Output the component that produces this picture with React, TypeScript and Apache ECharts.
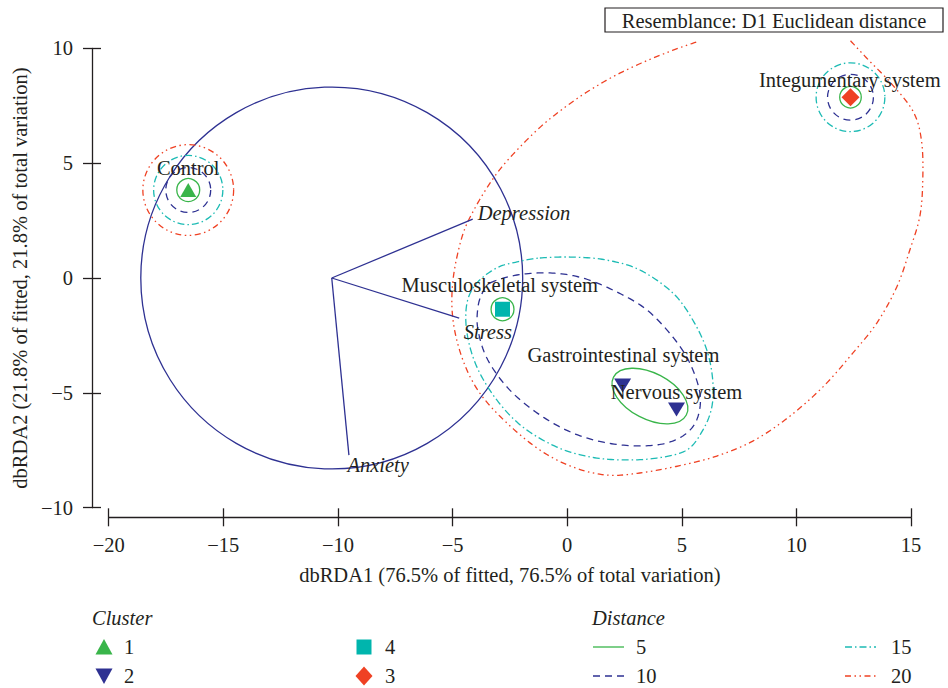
import React, { useEffect, useRef } from 'react';
import * as echarts from 'echarts';

const FONT = '"Liberation Serif", "Times New Roman", serif';
const INK = '#231f20';
const GREEN = '#39b54a';
const NAVY = '#2e3192';
const TEAL = '#00b5ad';
const TEAL_LINE = '#1cbbb4';
const RED = '#ef4123';
const FS = 20.5;

// axes
const xRange = [-20, 15];
const yRange = [-10, 10];
const tickStep = 5;
const xTitle = 'dbRDA1 (76.5% of fitted, 76.5% of total variation)';
const yTitle = 'dbRDA2 (21.8% of fitted, 21.8% of total variation)';
const boxTitle = 'Resemblance: D1 Euclidean distance';

// samples
const pointNames = ['Control', 'Integumentary system', 'Musculoskeletal system', 'Gastrointestinal system', 'Nervous system'];
const pointX = [-16.53, 12.36, -2.82, 2.42, 4.77];
const pointY = [3.83, 7.87, -1.36, -4.68, -5.72];
const pointCluster = ['1', '3', '4', '2', '2'];
const labelOffset = [[0, -21.7], [-0.7, -17], [-2.7, -24], [0.8, -30.5], [0, -17]];

// vectors (correlation circle)
const vectorNames = ['Depression', 'Stress', 'Anxiety'];
const vectorOrigin = [-10.27, 0];
const vectorEndX = [-4.12, -4.71, -9.52];
const vectorEndY = [2.56, -1.75, -7.71];
const vectorLabelOffset = [[5, -6], [4.5, 13.5], [-1.5, 10]];
const corrCircle = [[-10.27, 0, 8.33]];

// distance contours: circles [x, y, r]
const circles5 = [[-16.53, 3.83, 0.5], [12.36, 7.87, 0.47], [-2.82, -1.36, 0.5]];
const circles10 = [[-16.53, 3.83, 0.98], [12.36, 7.87, 1.0]];
const circles15 = [[-16.53, 3.83, 1.51], [12.36, 7.87, 1.5]];
const circles20 = [[-16.53, 3.83, 1.98]];
// ellipse [x, y, rx, ry, angleDeg]
const ellipse5 = [[3.61, -5.14, 1.79, 1.0, -27.5]];
// outlines
const outline10 = [[-3.37, -0.22], [-2.19, 0.13], [-0.75, 0.22], [0.68, 0.0], [2.17, -0.61], [3.48, -1.39], [4.61, -2.57], [5.35, -3.7], [5.79, -5.01], [5.7, -6.05], [5.22, -6.75], [4.35, -7.18], [3.17, -7.31], [1.73, -7.18], [0.25, -6.75], [-1.19, -5.96], [-2.5, -4.88], [-3.46, -3.57], [-3.89, -2.26], [-3.89, -1.26], [-3.68, -0.61]];
const outline15 = [[-1.19, 0.87], [0.25, 0.91], [1.73, 0.78], [3.17, 0.35], [4.61, -0.65], [5.48, -1.83], [6.09, -3.13], [6.35, -4.44], [6.31, -5.62], [5.92, -6.62], [5.22, -7.49], [3.91, -7.84], [2.43, -7.92], [0.99, -7.79], [-0.45, -7.36], [-1.93, -6.49], [-3.07, -5.31], [-3.94, -3.87], [-4.37, -2.39], [-4.37, -1.09], [-3.94, -0.22], [-3.07, 0.44], [-2.19, 0.7]];
const outline20 = [[5.63, 10.27], [4.68, 9.94], [3.22, 9.35], [1.81, 8.66], [0.33, 7.74], [-1.15, 6.59], [-2.53, 5.2], [-3.31, 4.21], [-4.08, 2.94], [-4.59, 1.78], [-4.98, -0.09], [-4.98, -1.83], [-4.55, -3.57], [-3.81, -5.01], [-2.63, -6.31], [-1.19, -7.49], [0.25, -8.23], [1.73, -8.58], [3.17, -8.49], [4.87, -8.18], [6.53, -7.75], [8.1, -7.1], [9.62, -6.09], [11.15, -4.75], [12.46, -3.27], [13.51, -1.96], [14.38, -0.39], [14.95, 1.22], [15.38, 2.66], [15.51, 4.14], [15.47, 5.88], [15.12, 7.2], [14.2, 8.4], [13.11, 9.53], [12.33, 10.36]];

// legend
const clusterLegend = ['1', '2', '4', '3'];
const distanceLegend = ['5', '10', '15', '20'];

const DASH: Record<string, any> = {
  '5': null,
  '10': [7, 5],
  '15': [7, 3, 1.5, 3],
  '20': [6, 3.5, 1.5, 3.5, 1.5, 3.5],
};
const DCOLOR: Record<string, string> = { '5': GREEN, '10': NAVY, '15': TEAL_LINE, '20': RED };
const LW = 1.3;

const clusterStyle: Record<string, any> = {
  '1': { symbol: 'triangle', size: [16, 14], rotate: 0, color: GREEN },
  '2': { symbol: 'triangle', size: [17, 14], rotate: 180, color: NAVY },
  '4': { symbol: 'rect', size: [15, 15], rotate: 0, color: TEAL },
  '3': { symbol: 'diamond', size: [18, 18], rotate: 0, color: RED },
};

const minus = (v: number) => String(v).replace('-', '\u2212');

// smooth pixel-space curve through the projected outline points (Catmull-Rom)
function smoothPath(px: number[][], closed: boolean, seg = 14) {
  const n = px.length;
  const get = (i: number) => (closed ? px[(i + n) % n] : px[Math.max(0, Math.min(n - 1, i))]);
  const out: number[][] = [];
  const last = closed ? n : n - 1;
  for (let i = 0; i < last; i++) {
    const p0 = get(i - 1), p1 = get(i), p2 = get(i + 1), p3 = get(i + 2);
    for (let s = 0; s < seg; s++) {
      const t = s / seg, t2 = t * t, t3 = t2 * t;
      const f = (k: number) =>
        0.5 * (2 * p1[k] + (-p0[k] + p2[k]) * t + (2 * p0[k] - 5 * p1[k] + 4 * p2[k] - p3[k]) * t2 + (-p0[k] + 3 * p1[k] - 3 * p2[k] + p3[k]) * t3);
      out.push([f(0), f(1)]);
    }
  }
  if (!closed) out.push(px[n - 1]);
  return out;
}

function circleSeries(data: number[][], key: string) {
  return {
    type: 'custom',
    z: 2,
    silent: true,
    data,
    renderItem: (params: any, api: any) => {
      const c = api.coord([api.value(0), api.value(1)]);
      const r = api.size([api.value(2), 0])[0];
      return {
        type: 'circle',
        shape: { cx: c[0], cy: c[1], r },
        style: { fill: 'none', stroke: DCOLOR[key], lineWidth: LW, lineDash: DASH[key] },
      };
    },
  };
}

function outlineSeries(pts: number[][], key: string, closed: boolean) {
  return {
    type: 'custom',
    z: 2,
    silent: true,
    data: pts,
    renderItem: (params: any, api: any) => {
      if (params.dataIndex !== 0) return null;
      const projected = pts.map((p) => api.coord(p));
      const points = smoothPath(projected, closed);
      return {
        type: closed ? 'polygon' : 'polyline',
        shape: { points },
        style: { fill: 'none', stroke: DCOLOR[key], lineWidth: LW, lineDash: DASH[key] },
      };
    },
  };
}

function buildOption() {
  const axisLineStyle = { color: INK, width: 1.3 };
  const textStyle = { fontFamily: FONT, fontSize: FS, color: INK };

  const xBase = { type: 'value', min: xRange[0], max: xRange[1], interval: tickStep, position: 'bottom', offset: 9.6, splitLine: { show: false } };
  const yBase = { type: 'value', min: yRange[0], max: yRange[1], interval: tickStep, position: 'left', offset: 16.7, splitLine: { show: false } };

  const series: any[] = [];

  // correlation circle
  series.push({
    type: 'custom', z: 1, silent: true, data: corrCircle,
    renderItem: (params: any, api: any) => {
      const c = api.coord([api.value(0), api.value(1)]);
      const r = api.size([api.value(2), 0])[0];
      return { type: 'circle', shape: { cx: c[0], cy: c[1], r }, style: { fill: 'none', stroke: NAVY, lineWidth: 1.3 } };
    },
  });
  // vectors
  series.push({
    type: 'custom', z: 3, silent: true,
    data: vectorNames.map((n, i) => ({ name: n, value: [vectorEndX[i], vectorEndY[i]] })),
    renderItem: (params: any, api: any) => {
      const i = params.dataIndex;
      const o = api.coord(vectorOrigin);
      const e = api.coord([api.value(0), api.value(1)]);
      return {
        type: 'group',
        children: [
          { type: 'line', shape: { x1: o[0], y1: o[1], x2: e[0], y2: e[1] }, style: { stroke: NAVY, lineWidth: 1.3 } },
          {
            type: 'text', x: e[0] + vectorLabelOffset[i][0], y: e[1] + vectorLabelOffset[i][1],
            style: { text: vectorNames[i], fontFamily: FONT, fontSize: FS, fontStyle: 'italic', fill: INK, align: 'left', verticalAlign: 'middle' },
          },
        ],
      };
    },
  });

  series.push(circleSeries(circles5, '5'));
  series.push(circleSeries(circles10, '10'));
  series.push(circleSeries(circles15, '15'));
  series.push(circleSeries(circles20, '20'));
  series.push({
    type: 'custom', z: 2, silent: true, data: ellipse5,
    renderItem: (params: any, api: any) => {
      const c = api.coord([api.value(0), api.value(1)]);
      const rx = api.size([api.value(2), 0])[0];
      const ry = api.size([0, api.value(3)])[1];
      return {
        type: 'ellipse', x: c[0], y: c[1], rotation: (api.value(4) * Math.PI) / 180,
        shape: { cx: 0, cy: 0, rx, ry },
        style: { fill: 'none', stroke: GREEN, lineWidth: LW },
      };
    },
  });
  series.push(outlineSeries(outline10, '10', true));
  series.push(outlineSeries(outline15, '15', true));
  series.push(outlineSeries(outline20, '20', false));

  clusterLegend.forEach((cl) => {
    const st = clusterStyle[cl];
    const data: any[] = [];
    pointNames.forEach((n, i) => {
      if (pointCluster[i] !== cl) return;
      data.push({ name: n, value: [pointX[i], pointY[i]] });
    });
    series.push({
      type: 'scatter', name: cl, z: 5, symbol: st.symbol, symbolSize: st.size, symbolRotate: st.rotate,
      itemStyle: { color: st.color, opacity: 1 },
      data,
    });
  });

  // sample labels
  series.push({
    type: 'custom', z: 6, silent: true,
    data: pointNames.map((n, i) => ({ name: n, value: [pointX[i], pointY[i]] })),
    renderItem: (params: any, api: any) => {
      const i = params.dataIndex;
      const c = api.coord([api.value(0), api.value(1)]);
      return {
        type: 'text', x: c[0] + labelOffset[i][0], y: c[1] + labelOffset[i][1],
        style: { text: pointNames[i], fontFamily: FONT, fontSize: FS, fill: INK, align: 'center', verticalAlign: 'middle' },
      };
    },
  });

  // legend graphics
  const g: any[] = [];
  const rowY = [647, 676];
  g.push({ type: 'text', x: 92, y: 618, style: { text: 'Cluster', fontFamily: FONT, fontSize: FS, fontStyle: 'italic', fill: INK, verticalAlign: 'middle' } });
  g.push({ type: 'text', x: 592, y: 618, style: { text: 'Distance', fontFamily: FONT, fontSize: FS, fontStyle: 'italic', fill: INK, verticalAlign: 'middle' } });
  const symX = [104, 104, 364, 364];
  const symY = [rowY[0], rowY[1], rowY[0], rowY[1]];
  const symTextX = [124, 124, 385, 385];
  clusterLegend.forEach((cl, i) => {
    const cx = symX[i], cy = symY[i];
    let el: any;
    if (cl === '1') el = { type: 'polygon', shape: { points: [[cx - 8.5, cy + 7.5], [cx, cy - 8], [cx + 8.5, cy + 7.5]] }, style: { fill: GREEN } };
    else if (cl === '2') el = { type: 'polygon', shape: { points: [[cx - 8.5, cy - 7.5], [cx + 8.5, cy - 7.5], [cx, cy + 8]] }, style: { fill: NAVY } };
    else if (cl === '4') el = { type: 'rect', shape: { x: cx - 7.5, y: cy - 7.5, width: 15, height: 15 }, style: { fill: TEAL } };
    else el = { type: 'polygon', shape: { points: [[cx, cy - 9.5], [cx + 8.5, cy], [cx, cy + 9.5], [cx - 8.5, cy]] }, style: { fill: RED } };
    g.push(el);
    g.push({ type: 'text', x: symTextX[i], y: cy, style: { text: cl, fontFamily: FONT, fontSize: FS, fill: INK, verticalAlign: 'middle' } });
  });
  const lineX = [593, 593, 845, 845];
  const lineTextX = [636, 636, 891, 891];
  distanceLegend.forEach((d, i) => {
    const y = rowY[i % 2];
    g.push({ type: 'line', shape: { x1: lineX[i], y1: y, x2: lineX[i] + 31, y2: y }, style: { stroke: DCOLOR[d], lineWidth: LW, lineDash: DASH[d] } });
    g.push({ type: 'text', x: lineTextX[i], y, style: { text: d, fontFamily: FONT, fontSize: FS, fill: INK, verticalAlign: 'middle' } });
  });
  // title box
  g.push({ type: 'rect', shape: { x: 605, y: 8, width: 338, height: 24 }, style: { fill: '#fff', stroke: INK, lineWidth: 1.2 } });
  g.push({ type: 'text', x: 774, y: 20.5, style: { text: boxTitle, fontFamily: FONT, fontSize: FS, fill: INK, align: 'center', verticalAlign: 'middle' } });

  return {
    animation: false,
    backgroundColor: '#ffffff',
    grid: { left: 108.7, right: 37, top: 48.3, bottom: 180.3, containLabel: false, outerBoundsMode: 'none' },
    xAxis: [
      {
        ...xBase,
        axisLine: { show: true, onZero: false, lineStyle: axisLineStyle },
        axisTick: { show: true, inside: false, length: 9, lineStyle: axisLineStyle },
        axisLabel: { margin: 17, formatter: minus, ...textStyle },
        name: xTitle, nameLocation: 'middle', nameGap: 47, nameTextStyle: textStyle,
      },
      {
        ...xBase,
        axisLine: { show: false, onZero: false },
        axisTick: { show: true, inside: true, length: 9, lineStyle: axisLineStyle },
        axisLabel: { show: false },
      },
    ],
    yAxis: [
      {
        ...yBase,
        axisLine: { show: true, onZero: false, lineStyle: axisLineStyle },
        axisTick: { show: true, inside: false, length: 9, lineStyle: axisLineStyle },
        axisLabel: { margin: 19, formatter: minus, ...textStyle },
        name: yTitle, nameLocation: 'middle', nameGap: 62, nameTextStyle: textStyle,
      },
      {
        ...yBase,
        axisLine: { show: false, onZero: false },
        axisTick: { show: true, inside: true, length: 9, lineStyle: axisLineStyle },
        axisLabel: { show: false },
      },
    ],
    graphic: g,
    series,
  };
}

export default function App() {
  const ref = useRef<HTMLDivElement>(null);
  useEffect(() => {
    const chart = echarts.init(ref.current!, null, { renderer: 'svg' });
    chart.setOption(buildOption() as any);
    return () => chart.dispose();
  }, []);
  return <div ref={ref} style={{ position: 'fixed', left: 0, top: 0, width: 948, height: 688, background: '#fff' }} />;
}
